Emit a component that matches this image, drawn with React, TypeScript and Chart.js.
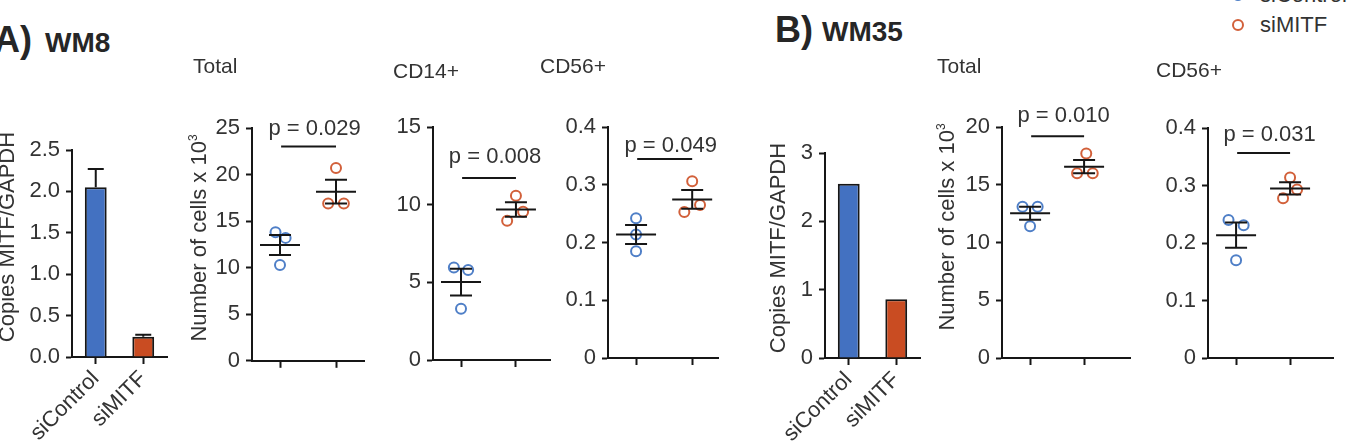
import React, { useEffect, useRef } from 'react';
import { Chart, registerables } from 'chart.js';

Chart.register(...registerables);

const FONT = '"Liberation Sans", Arial, Helvetica, sans-serif';
const TEXT = '#333333';
const AXIS = '#161616';
const BLUE_BAR = '#4371C1';
const RED_BAR = '#C94C22';
const BLUE_DOT = '#4F7FC7';
const RED_DOT = '#D2603A';

Chart.defaults.font.family = FONT;
Chart.defaults.color = TEXT;

// ---------------- data ----------------
const groups = ['siControl', 'siMITF'];

// A) WM8
const wm8Copies = [2.05, 0.245];
const wm8CopiesErr = [0.22, 0.025];
const wm8TotalCtrl = [13.8, 13.2, 10.3];
const wm8TotalMitf = [20.7, 16.9, 16.9];
const wm8Cd14Ctrl = [5.95, 5.8, 3.3];
const wm8Cd14Mitf = [10.57, 8.96, 9.55];
const wm8Cd56Ctrl = [0.242, 0.214, 0.185];
const wm8Cd56Mitf = [0.306, 0.253, 0.265];

// B) WM35
const wm35Copies = [2.55, 0.86];
const wm35TotalCtrl = [13.1, 13.1, 11.4];
const wm35TotalMitf = [17.7, 16.0, 16.0];
const wm35Cd56Ctrl = [0.24, 0.231, 0.17];
const wm35Cd56Mitf = [0.314, 0.278, 0.293];

// p values
const pValues = ['p = 0.029', 'p = 0.008', 'p = 0.049', 'p = 0.010', 'p = 0.031'];

// tick formatters
const fmtInt = (v: number) => String(Math.round(v));
const fmtDec = (v: number) => v.toFixed(1);
const fmtDecZero = (v: number) => (Math.abs(v) < 1e-9 ? '0' : v.toFixed(1));

// ---------------- plugins ----------------
const meanSemPlugin = {
  id: 'meanSem',
  afterDatasetsDraw(chart: any, _a: any, o: any) {
    if (!o || !o.enabled) return;
    const { ctx } = chart;
    const xs = chart.scales.x;
    const ys = chart.scales.y;
    ctx.save();
    ctx.strokeStyle = AXIS;
    ctx.lineWidth = 2;
    chart.data.datasets.forEach((ds: any, i: number) => {
      const vals: number[] = ds.data.map((p: any) => p.y);
      const n = vals.length;
      const mean = vals.reduce((a, b) => a + b, 0) / n;
      const sd = Math.sqrt(vals.reduce((a, b) => a + (b - mean) ** 2, 0) / (n - 1));
      const sem = sd / Math.sqrt(n);
      const cx = xs.getPixelForValue(i + 1);
      const ym = ys.getPixelForValue(mean);
      const yt = ys.getPixelForValue(mean + sem);
      const yb = ys.getPixelForValue(mean - sem);
      ctx.beginPath();
      ctx.moveTo(cx - o.meanHalf, ym);
      ctx.lineTo(cx + o.meanHalf, ym);
      ctx.moveTo(cx - o.capHalf, yt);
      ctx.lineTo(cx + o.capHalf, yt);
      ctx.moveTo(cx - o.capHalf, yb);
      ctx.lineTo(cx + o.capHalf, yb);
      ctx.moveTo(cx, yt);
      ctx.lineTo(cx, yb);
      ctx.stroke();
    });
    ctx.restore();
  },
};

const bracketPlugin = {
  id: 'pBracket',
  afterDatasetsDraw(chart: any, _a: any, o: any) {
    if (!o || !o.text) return;
    const { ctx } = chart;
    const xs = chart.scales.x;
    const ys = chart.scales.y;
    const x1 = xs.getPixelForValue(o.from);
    const x2 = xs.getPixelForValue(o.to);
    const y = ys.getPixelForValue(o.lineAt);
    const ty = ys.getPixelForValue(o.textAt);
    ctx.save();
    ctx.strokeStyle = AXIS;
    ctx.lineWidth = 2;
    ctx.beginPath();
    ctx.moveTo(x1, y);
    ctx.lineTo(x2, y);
    ctx.stroke();
    ctx.font = `22px ${FONT}`;
    ctx.fillStyle = TEXT;
    ctx.textAlign = 'center';
    ctx.textBaseline = 'middle';
    ctx.fillText(o.text, (x1 + x2) / 2 + o.shift, ty);
    ctx.restore();
  },
};

const barErrPlugin = {
  id: 'barErr',
  afterDatasetsDraw(chart: any, _a: any, o: any) {
    if (!o || !o.errors) return;
    const { ctx } = chart;
    const ys = chart.scales.y;
    const meta = chart.getDatasetMeta(0);
    const vals = chart.data.datasets[0].data;
    ctx.save();
    ctx.strokeStyle = AXIS;
    ctx.lineWidth = 2;
    meta.data.forEach((bar: any, i: number) => {
      const e = o.errors[i];
      if (!e) return;
      const top = ys.getPixelForValue(vals[i]);
      const end = ys.getPixelForValue(vals[i] + e);
      ctx.beginPath();
      ctx.moveTo(bar.x, top);
      ctx.lineTo(bar.x, end);
      ctx.moveTo(bar.x - o.capHalf, end);
      ctx.lineTo(bar.x + o.capHalf, end);
      ctx.stroke();
    });
    ctx.restore();
  },
};

// ---------------- layout ----------------
type Box = { left: number; top: number; width: number; height: number; yw: number; pt: number; pr: number; xh: number };

function yScale(max: number, step: number, fmt: (v: number) => string, yw: number) {
  return {
    type: 'linear',
    min: 0,
    max,
    ticks: { stepSize: step, font: { size: 22 }, color: TEXT, padding: 6, callback: (v: any) => fmt(Number(v)) },
    grid: { display: true, drawOnChartArea: false, drawTicks: true, tickLength: 6, tickColor: AXIS, tickWidth: 2 },
    border: { display: true, color: AXIS, width: 2 },
    afterFit: (s: any) => {
      s.width = yw;
    },
  };
}

type DotPanel = {
  ctrl: number[];
  mitf: number[];
  jc: number[];
  jm: number[];
  yMax: number;
  step: number;
  fmt: (v: number) => string;
  p: string;
  pLine: number;
  pText: number;
  xMin: number;
  xMax: number;
  box: Box;
};

const dotPanels: DotPanel[] = [
  { ctrl: wm8TotalCtrl, mitf: wm8TotalMitf, jc: [-0.08, 0.1, 0], jm: [0, -0.14, 0.14], yMax: 25, step: 5, fmt: fmtInt, p: pValues[0], pLine: 23, pText: 24.9, xMin: 0.5, xMax: 2.5, box: { left: 190, top: 60, width: 190, height: 320, yw: 62, pt: 68, pr: 16, xh: 19 } },
  { ctrl: wm8Cd14Ctrl, mitf: wm8Cd14Mitf, jc: [-0.13, 0.13, 0], jm: [0, -0.16, 0.13], yMax: 15, step: 5, fmt: fmtInt, p: pValues[1], pLine: 11.72, pText: 13.1, xMin: 0.49, xMax: 2.62, box: { left: 385, top: 60, width: 175, height: 320, yw: 48, pt: 67, pr: 10, xh: 20 } },
  { ctrl: wm8Cd56Ctrl, mitf: wm8Cd56Mitf, jc: [0, 0, 0], jm: [0, -0.14, 0.14], yMax: 0.4, step: 0.1, fmt: fmtDecZero, p: pValues[2], pLine: 0.3446, pText: 0.367, xMin: 0.5, xMax: 2.46, box: { left: 560, top: 60, width: 170, height: 320, yw: 48, pt: 67, pr: 12, xh: 22 } },
  { ctrl: wm35TotalCtrl, mitf: wm35TotalMitf, jc: [-0.14, 0.14, 0], jm: [0.04, -0.13, 0.16], yMax: 20, step: 5, fmt: fmtInt, p: pValues[3], pLine: 19.2, pText: 21.0, xMin: 0.48, xMax: 2.85, box: { left: 940, top: 60, width: 200, height: 320, yw: 62, pt: 67, pr: 10, xh: 22 } },
  { ctrl: wm35Cd56Ctrl, mitf: wm35Cd56Mitf, jc: [-0.14, 0.14, 0], jm: [0, -0.13, 0.13], yMax: 0.4, step: 0.1, fmt: fmtDecZero, p: pValues[4], pLine: 0.3565, pText: 0.388, xMin: 0.48, xMax: 2.795, box: { left: 1150, top: 60, width: 200, height: 320, yw: 58, pt: 68, pr: 17, xh: 22 } },
];

type BarPanel = {
  values: number[];
  errors: number[] | null;
  yMax: number;
  step: number;
  fmt: (v: number) => string;
  box: Box;
};

const barPanels: BarPanel[] = [
  { values: wm8Copies, errors: wm8CopiesErr, yMax: 2.5, step: 0.5, fmt: fmtDec, box: { left: 0, top: 100, width: 175, height: 344, yw: 72, pt: 50, pr: 8, xh: 87 } },
  { values: wm35Copies, errors: null, yMax: 3, step: 1, fmt: fmtInt, box: { left: 760, top: 100, width: 170, height: 344, yw: 65, pt: 53, pr: 10, xh: 86 } },
];

function dotConfig(p: DotPanel): any {
  const b = p.box;
  const mk = (vals: number[], jit: number[], c: number) => vals.map((v, i) => ({ x: c + jit[i], y: v }));
  const dsStyle = (color: string) => ({
    pointStyle: 'circle',
    pointRadius: 5,
    pointBorderWidth: 2,
    borderColor: color,
    pointBorderColor: color,
    backgroundColor: 'rgba(255,255,255,0)',
    pointBackgroundColor: 'rgba(255,255,255,0)',
    showLine: false,
    clip: false,
  });
  return {
    type: 'scatter',
    data: {
      datasets: [
        { label: groups[0], data: mk(p.ctrl, p.jc, 1), ...dsStyle(BLUE_DOT) },
        { label: groups[1], data: mk(p.mitf, p.jm, 2), ...dsStyle(RED_DOT) },
      ],
    },
    options: {
      animation: false,
      responsive: false,
      devicePixelRatio: 1,
      events: [],
      layout: { padding: { left: 0, top: b.pt, right: b.pr, bottom: 0 } },
      plugins: {
        legend: { display: false },
        tooltip: { enabled: false },
        meanSem: { enabled: true, meanHalf: 20, capHalf: 11 },
        pBracket: { text: p.p, from: 1.02, to: 2.0, lineAt: p.pLine, textAt: p.pText, shift: 6 },
      },
      scales: {
        x: {
          type: 'linear',
          min: p.xMin,
          max: p.xMax,
          afterBuildTicks: (s: any) => {
            s.ticks = [{ value: 1 }, { value: 2 }];
          },
          ticks: { autoSkip: false, callback: () => '', font: { size: 22 } },
          grid: { display: true, drawOnChartArea: false, drawTicks: true, tickLength: 7, tickColor: AXIS, tickWidth: 2 },
          border: { display: true, color: AXIS, width: 2 },
          afterFit: (s: any) => {
            s.height = b.xh;
          },
        },
        y: yScale(p.yMax, p.step, p.fmt, b.yw),
      },
    },
    plugins: [meanSemPlugin, bracketPlugin],
  };
}

function barConfig(p: BarPanel): any {
  const b = p.box;
  return {
    type: 'bar',
    data: {
      labels: groups,
      datasets: [
        {
          data: p.values,
          backgroundColor: [BLUE_BAR, RED_BAR],
          borderColor: AXIS,
          borderWidth: 2,
          barPercentage: 0.46,
          categoryPercentage: 1,
        },
      ],
    },
    options: {
      animation: false,
      responsive: false,
      devicePixelRatio: 1,
      events: [],
      layout: { padding: { left: 0, top: b.pt, right: b.pr, bottom: 0 } },
      plugins: {
        legend: { display: false },
        tooltip: { enabled: false },
        barErr: { errors: p.errors, capHalf: 8 },
      },
      scales: {
        x: {
          type: 'category',
          offset: true,
          ticks: { autoSkip: false, minRotation: 45, maxRotation: 45, font: { size: 22 }, color: TEXT, padding: 2 },
          grid: { display: true, offset: false, drawOnChartArea: false, drawTicks: true, tickLength: 7, tickColor: AXIS, tickWidth: 2 },
          border: { display: true, color: AXIS, width: 2 },
          afterFit: (s: any) => {
            s.height = b.xh;
          },
        },
        y: yScale(p.yMax, p.step, p.fmt, b.yw),
      },
    },
    plugins: [barErrPlugin],
  };
}

// ---------------- components ----------------
function ChartCanvas({ box, make }: { box: Box; make: () => any }) {
  const ref = useRef<HTMLCanvasElement | null>(null);
  useEffect(() => {
    if (!ref.current) return;
    const chart = new Chart(ref.current, make());
    return () => chart.destroy();
  }, []);
  return (
    <canvas
      ref={ref}
      width={box.width}
      height={box.height}
      style={{ position: 'absolute', left: box.left, top: box.top, width: box.width, height: box.height }}
    />
  );
}

function Txt({ x, base, size, bold, children }: { x: number; base: number; size: number; bold?: boolean; children: any }) {
  return (
    <div
      style={{
        position: 'absolute',
        left: x,
        top: base - 0.8465 * size,
        fontSize: size,
        lineHeight: `${size}px`,
        fontWeight: bold ? 700 : 400,
        whiteSpace: 'nowrap',
        color: bold ? '#262626' : TEXT,
      }}
    >
      {children}
    </div>
  );
}

function VLabel({ base, cy, size, children }: { base: number; cy: number; size: number; children: any }) {
  const cx = base - (0.8465 * size - size / 2);
  return (
    <div
      style={{
        position: 'absolute',
        left: cx - 160,
        top: cy - size / 2,
        width: 320,
        height: size,
        lineHeight: `${size}px`,
        fontSize: size,
        textAlign: 'center',
        transform: 'rotate(-90deg)',
        whiteSpace: 'nowrap',
        color: TEXT,
      }}
    >
      {children}
    </div>
  );
}

function LegendDot({ cx, cy, color }: { cx: number; cy: number; color: string }) {
  return (
    <div
      style={{
        position: 'absolute',
        left: cx - 6,
        top: cy - 6,
        width: 8,
        height: 8,
        border: `2px solid ${color}`,
        borderRadius: '50%',
      }}
    />
  );
}

const cellsLabel = (
  <span>
    Number of cells x 10
    <span style={{ fontSize: 12, position: 'relative', top: -9 }}>3</span>
  </span>
);

export default function App() {
  return (
    <div
      style={{
        position: 'absolute',
        left: 0,
        top: 0,
        width: 1350,
        height: 444,
        overflow: 'hidden',
        background: '#ffffff',
        fontFamily: FONT,
      }}
    >
      {barPanels.map((p, i) => (
        <ChartCanvas key={'bar' + i} box={p.box} make={() => barConfig(p)} />
      ))}
      {dotPanels.map((p, i) => (
        <ChartCanvas key={'dot' + i} box={p.box} make={() => dotConfig(p)} />
      ))}

      {/* panel headings */}
      <Txt x={-6} base={52} size={36} bold>A)</Txt>
      <Txt x={45} base={53} size={28} bold>WM8</Txt>
      <Txt x={775} base={42} size={36} bold>B)</Txt>
      <Txt x={822} base={42} size={28} bold>WM35</Txt>

      {/* sub titles */}
      <Txt x={193} base={73} size={21}>Total</Txt>
      <Txt x={393} base={78} size={21}>CD14+</Txt>
      <Txt x={540} base={73} size={21}>CD56+</Txt>
      <Txt x={937} base={73} size={21}>Total</Txt>
      <Txt x={1156} base={77} size={21}>CD56+</Txt>

      {/* y-axis titles */}
      <VLabel base={15} cy={237} size={22}>Copies MITF/GAPDH</VLabel>
      <VLabel base={207} cy={238} size={22}>{cellsLabel}</VLabel>
      <VLabel base={786} cy={248} size={22}>Copies MITF/GAPDH</VLabel>
      <VLabel base={955} cy={227} size={22}>{cellsLabel}</VLabel>

      {/* legend */}
      <LegendDot cx={1238} cy={-5} color={BLUE_DOT} />
      <Txt x={1260} base={3} size={22}>{groups[0]}</Txt>
      <LegendDot cx={1238} cy={25} color={RED_DOT} />
      <Txt x={1260} base={33} size={22}>{groups[1]}</Txt>
    </div>
  );
}
